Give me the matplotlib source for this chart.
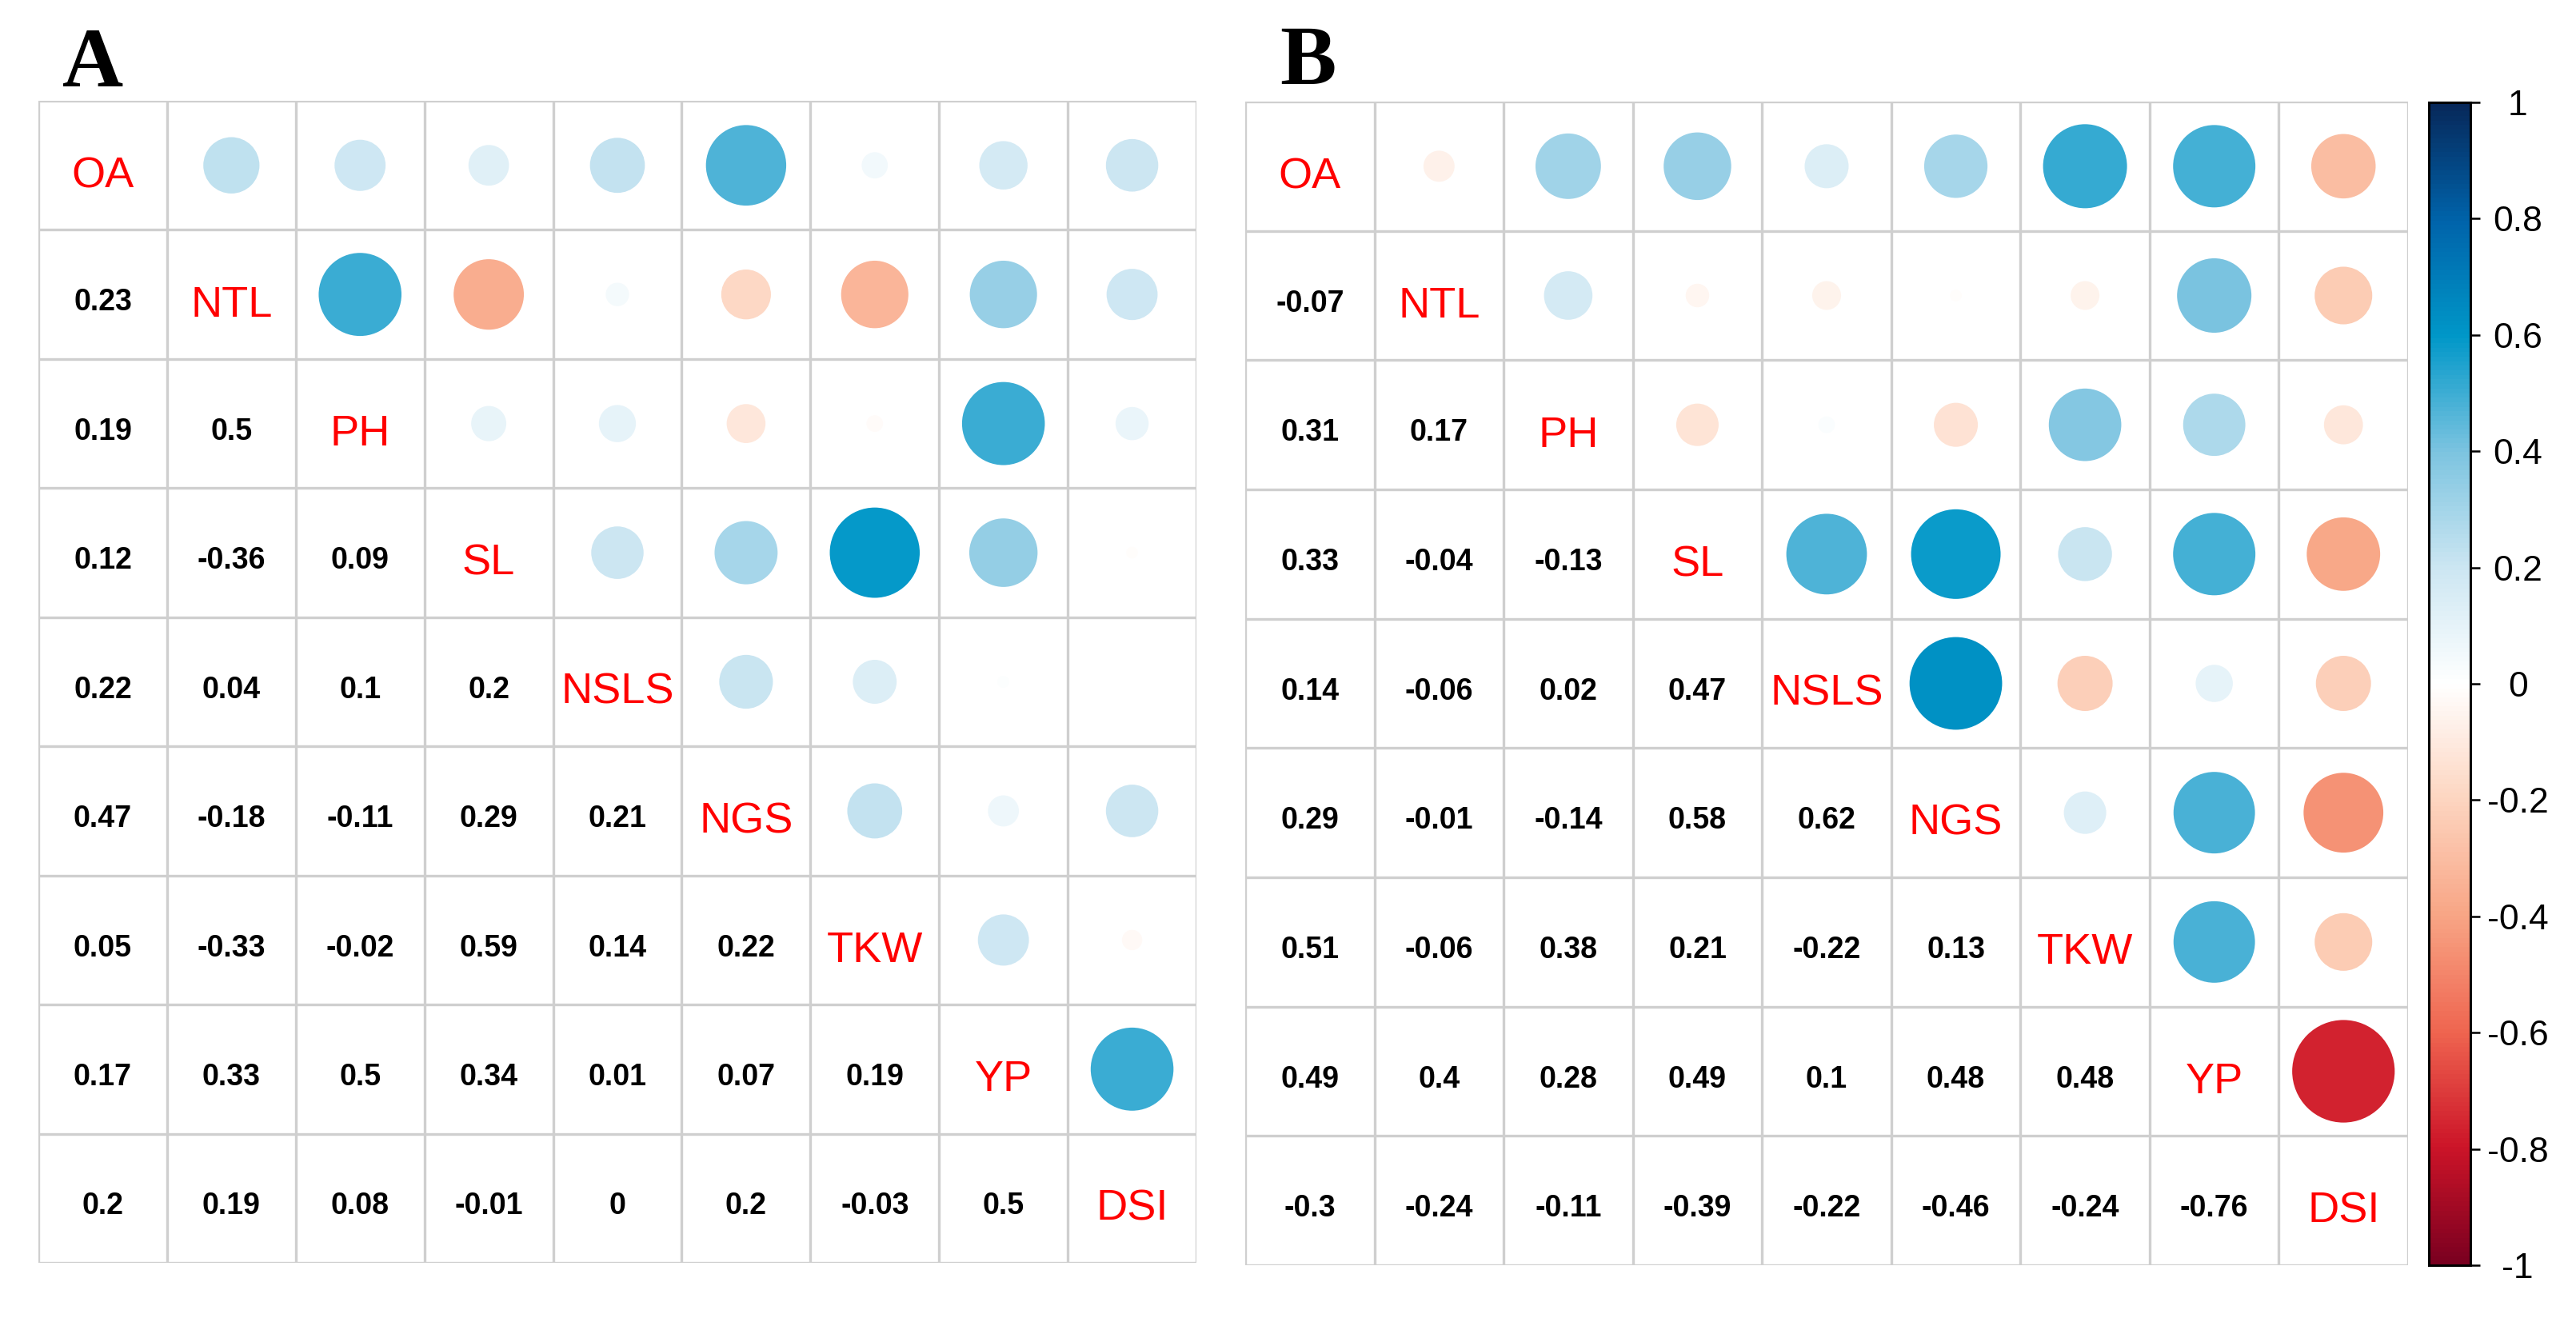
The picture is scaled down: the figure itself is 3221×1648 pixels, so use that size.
import numpy as np
import matplotlib
matplotlib.use("Agg")
import matplotlib.pyplot as plt
from matplotlib.patches import Circle
from matplotlib.colors import LinearSegmentedColormap, Normalize
from matplotlib.cm import ScalarMappable

# ---------------- data ----------------
traits = ["OA", "NTL", "PH", "SL", "NSLS", "NGS", "TKW", "YP", "DSI"]

# lower-triangle rows (row i holds correlations with traits 0..i-1)
lower_A = [
    [],
    [0.23],
    [0.19, 0.5],
    [0.12, -0.36, 0.09],
    [0.22, 0.04, 0.1, 0.2],
    [0.47, -0.18, -0.11, 0.29, 0.21],
    [0.05, -0.33, -0.02, 0.59, 0.14, 0.22],
    [0.17, 0.33, 0.5, 0.34, 0.01, 0.07, 0.19],
    [0.2, 0.19, 0.08, -0.01, 0, 0.2, -0.03, 0.5],
]
lower_B = [
    [],
    [-0.07],
    [0.31, 0.17],
    [0.33, -0.04, -0.13],
    [0.14, -0.06, 0.02, 0.47],
    [0.29, -0.01, -0.14, 0.58, 0.62],
    [0.51, -0.06, 0.38, 0.21, -0.22, 0.13],
    [0.49, 0.4, 0.28, 0.49, 0.1, 0.48, 0.48],
    [-0.3, -0.24, -0.11, -0.39, -0.22, -0.46, -0.24, -0.76],
]
cbar_ticks = [1, 0.8, 0.6, 0.4, 0.2, 0, -0.2, -0.4, -0.6, -0.8, -1]
cbar_labels = ["1", "0.8", "0.6", "0.4", "0.2", "0", "-0.2", "-0.4", "-0.6", "-0.8", "-1"]
panel_letters = ["A", "B"]

# ---------------- style ----------------
W, H = 3221, 1648
cmap = LinearSegmentedColormap.from_list(
    "corr",
    [(0.0, "#7a0020"), (0.1, "#cc1428"), (0.2, "#ef6550"), (0.3, "#f8a585"),
     (0.4, "#fdd5c0"), (0.5, "#ffffff"), (0.6, "#cce6f2"), (0.7, "#7cc4e0"),
     (0.8, "#0097c8"), (0.9, "#0063aa"), (1.0, "#07285a")])
norm = Normalize(-1, 1)
grid_col = "#cfcfcf"


def full_matrix(lower):
    n = len(lower)
    m = np.eye(n)
    for i, row in enumerate(lower):
        for j, v in enumerate(row):
            m[i, j] = v
            m[j, i] = v
    return m


def fmt(v):
    return f"{v:g}"


fig = plt.figure(figsize=(W / 100, H / 100), dpi=100)
fig.patch.set_facecolor("white")


def panel(rect_px, lower, letter, letter_px):
    x0, y0, x1, y1 = rect_px
    ax = fig.add_axes([x0 / W, 1 - y1 / H, (x1 - x0) / W, (y1 - y0) / H])
    n = len(traits)
    m = full_matrix(lower)
    ax.set_xlim(0, n)
    ax.set_ylim(n, 0)
    ax.axis("off")
    for k in range(n + 1):
        ax.plot([k, k], [0, n], color=grid_col, lw=2.4, zorder=1, solid_capstyle="projecting")
        ax.plot([0, n], [k, k], color=grid_col, lw=2.4, zorder=1, solid_capstyle="projecting")
    for i in range(n):
        for j in range(n):
            cx, cy = j + 0.5, i + 0.5
            if i == j:
                ax.text(cx, cy + 0.17, traits[i], color="#ff0000", fontsize=39,
                        family="Liberation Sans", ha="center", va="baseline", zorder=3)
            elif j > i:
                v = m[i, j]
                r = 0.455 * np.sqrt(abs(v))
                if r > 0:
                    ax.add_patch(Circle((cx, cy), r, facecolor=cmap(norm(v)),
                                        edgecolor="none", zorder=2))
            else:
                v = m[i, j]
                ax.text(cx, cy + 0.125, fmt(v), color="black", fontsize=27,
                        family="Liberation Sans", weight="bold",
                        ha="center", va="baseline", zorder=3)
    fig.text(letter_px[0] / W, 1 - letter_px[1] / H, letter, family="Liberation Serif",
             weight="bold", fontsize=76, ha="left", va="baseline")
    return ax


panel((48, 126, 1496, 1579), lower_A, panel_letters[0], (78, 108))
panel((1557, 127, 3011, 1582), lower_B, panel_letters[1], (1600, 105))

# colorbar
cx0, cy0, cx1, cy1 = 3037, 128, 3089, 1582
cax = fig.add_axes([cx0 / W, 1 - cy1 / H, (cx1 - cx0) / W, (cy1 - cy0) / H])
sm = ScalarMappable(norm=norm, cmap=cmap)
cb = fig.colorbar(sm, cax=cax, orientation="vertical")
cb.outline.set_linewidth(2.2)
cb.outline.set_edgecolor("black")
cax.set_yticks(cbar_ticks)
cax.set_yticklabels(cbar_labels)
cax.tick_params(axis="y", length=8.6, width=1.8, pad=34, labelsize=32, colors="black")
for t in cax.get_yticklabels():
    t.set_ha("center")
    t.set_family("Liberation Sans")

fig.savefig("out.png", dpi=100, facecolor="white")
